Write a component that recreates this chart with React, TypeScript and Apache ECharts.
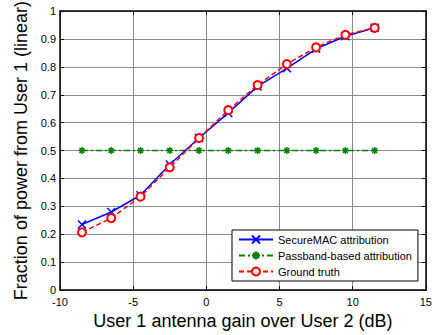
import React, { useEffect, useRef } from "react";
import * as echarts from "echarts";

const gains = [-8.5, -6.5, -4.5, -2.5, -0.5, 1.5, 3.5, 5.5, 7.5, 9.5, 11.5];
const secureMAC = [0.235, 0.28, 0.34, 0.45, 0.545, 0.635, 0.73, 0.795, 0.865, 0.91, 0.94];
const passband = [0.5, 0.5, 0.5, 0.5, 0.5, 0.5, 0.5, 0.5, 0.5, 0.5, 0.5];
const groundTruth = [0.207, 0.258, 0.335, 0.44, 0.545, 0.645, 0.735, 0.81, 0.87, 0.915, 0.94];

const seriesNames = ["SecureMAC attribution", "Passband-based attribution", "Ground truth"];
const xTitle = "User 1 antenna gain over User 2 (dB)";
const yTitle = "Fraction of power from User 1 (linear)";

const FONT = "Liberation Sans, Arial, sans-serif";
const xSym = "path://M0,0L10,10M10,0L0,10";
const starSym = "path://M5,0L5,10M0,5L10,5M1.5,1.5L8.5,8.5M8.5,1.5L1.5,8.5";

export default function App() {
  const ref = useRef<HTMLDivElement>(null);
  useEffect(() => {
    const chart = echarts.init(ref.current!, null, { renderer: "svg" });
    const pair = (ys: number[]) => gains.map((g, i) => [g, ys[i]]);
    const axisCommon = {
      axisLine: { show: true, onZero: false, lineStyle: { color: "#000", width: 1.5 } },
      axisTick: { show: true, inside: true, length: 4, lineStyle: { color: "#000" } },
    };
    chart.setOption({
      animation: false,
      backgroundColor: "#fff",
      grid: { left: 60, right: 7, top: 10, bottom: 41 },
      legend: {
        orient: "vertical",
        left: 232,
        top: 230,
        itemWidth: 34,
        itemHeight: 10,
        itemGap: 5,
        padding: [4, 6, 4, 6],
        borderColor: "#000",
        borderWidth: 1,
        backgroundColor: "#fff",
        textStyle: { fontFamily: FONT, fontSize: 11, color: "#000" },
        data: seriesNames,
      },
      xAxis: [
        {
          type: "value",
          min: -10,
          max: 15,
          interval: 5,
          position: "bottom",
          ...axisCommon,
          axisLabel: { fontFamily: FONT, fontSize: 11, color: "#000", margin: 6 },
          splitLine: { show: true, lineStyle: { color: "#8c8c8c", width: 1 } },
          name: xTitle,
          nameLocation: "middle",
          nameGap: 19,
          nameTextStyle: { fontFamily: FONT, fontSize: 18, color: "#000" },
        },
        {
          type: "value",
          min: -10,
          max: 15,
          interval: 5,
          position: "top",
          ...axisCommon,
          axisLabel: { show: false },
          splitLine: { show: false },
        },
      ],
      yAxis: [
        {
          type: "value",
          min: 0,
          max: 1,
          interval: 0.1,
          position: "left",
          ...axisCommon,
          axisLabel: { fontFamily: FONT, fontSize: 11, color: "#000", margin: 4, lineHeight: 11 },
          splitLine: { show: true, lineStyle: { color: "#8c8c8c", width: 1 } },
          name: yTitle,
          nameLocation: "middle",
          nameGap: 26,
          nameTextStyle: { fontFamily: FONT, fontSize: 18, color: "#000" },
        },
        {
          type: "value",
          min: 0,
          max: 1,
          interval: 0.1,
          position: "right",
          ...axisCommon,
          axisLabel: { show: false },
          splitLine: { show: false },
        },
      ],
      series: [
        {
          name: seriesNames[1],
          type: "line",
          data: pair(passband),
          symbol: starSym,
          symbolSize: 7,
          lineStyle: { color: "#008000", width: 1.5, type: [6, 3, 2, 3] },
          itemStyle: { color: "#008000", borderColor: "#008000", borderWidth: 1.5 },
        },
        {
          name: seriesNames[0],
          type: "line",
          data: pair(secureMAC),
          symbol: xSym,
          symbolSize: 8,
          lineStyle: { color: "#0000ff", width: 1.5 },
          itemStyle: { color: "#0000ff", borderColor: "#0000ff", borderWidth: 1.5 },
        },
        {
          name: seriesNames[2],
          type: "line",
          data: pair(groundTruth),
          symbol: "emptyCircle",
          symbolSize: 8,
          lineStyle: { color: "#ff0000", width: 1.5, type: [5, 3] },
          itemStyle: { color: "#ff0000", borderColor: "#ff0000", borderWidth: 1.5 },
        },
      ],
    });
    return () => chart.dispose();
  }, []);
  return <div ref={ref} style={{ width: 435, height: 335, position: "absolute", left: 0, top: 0 }} />;
}
